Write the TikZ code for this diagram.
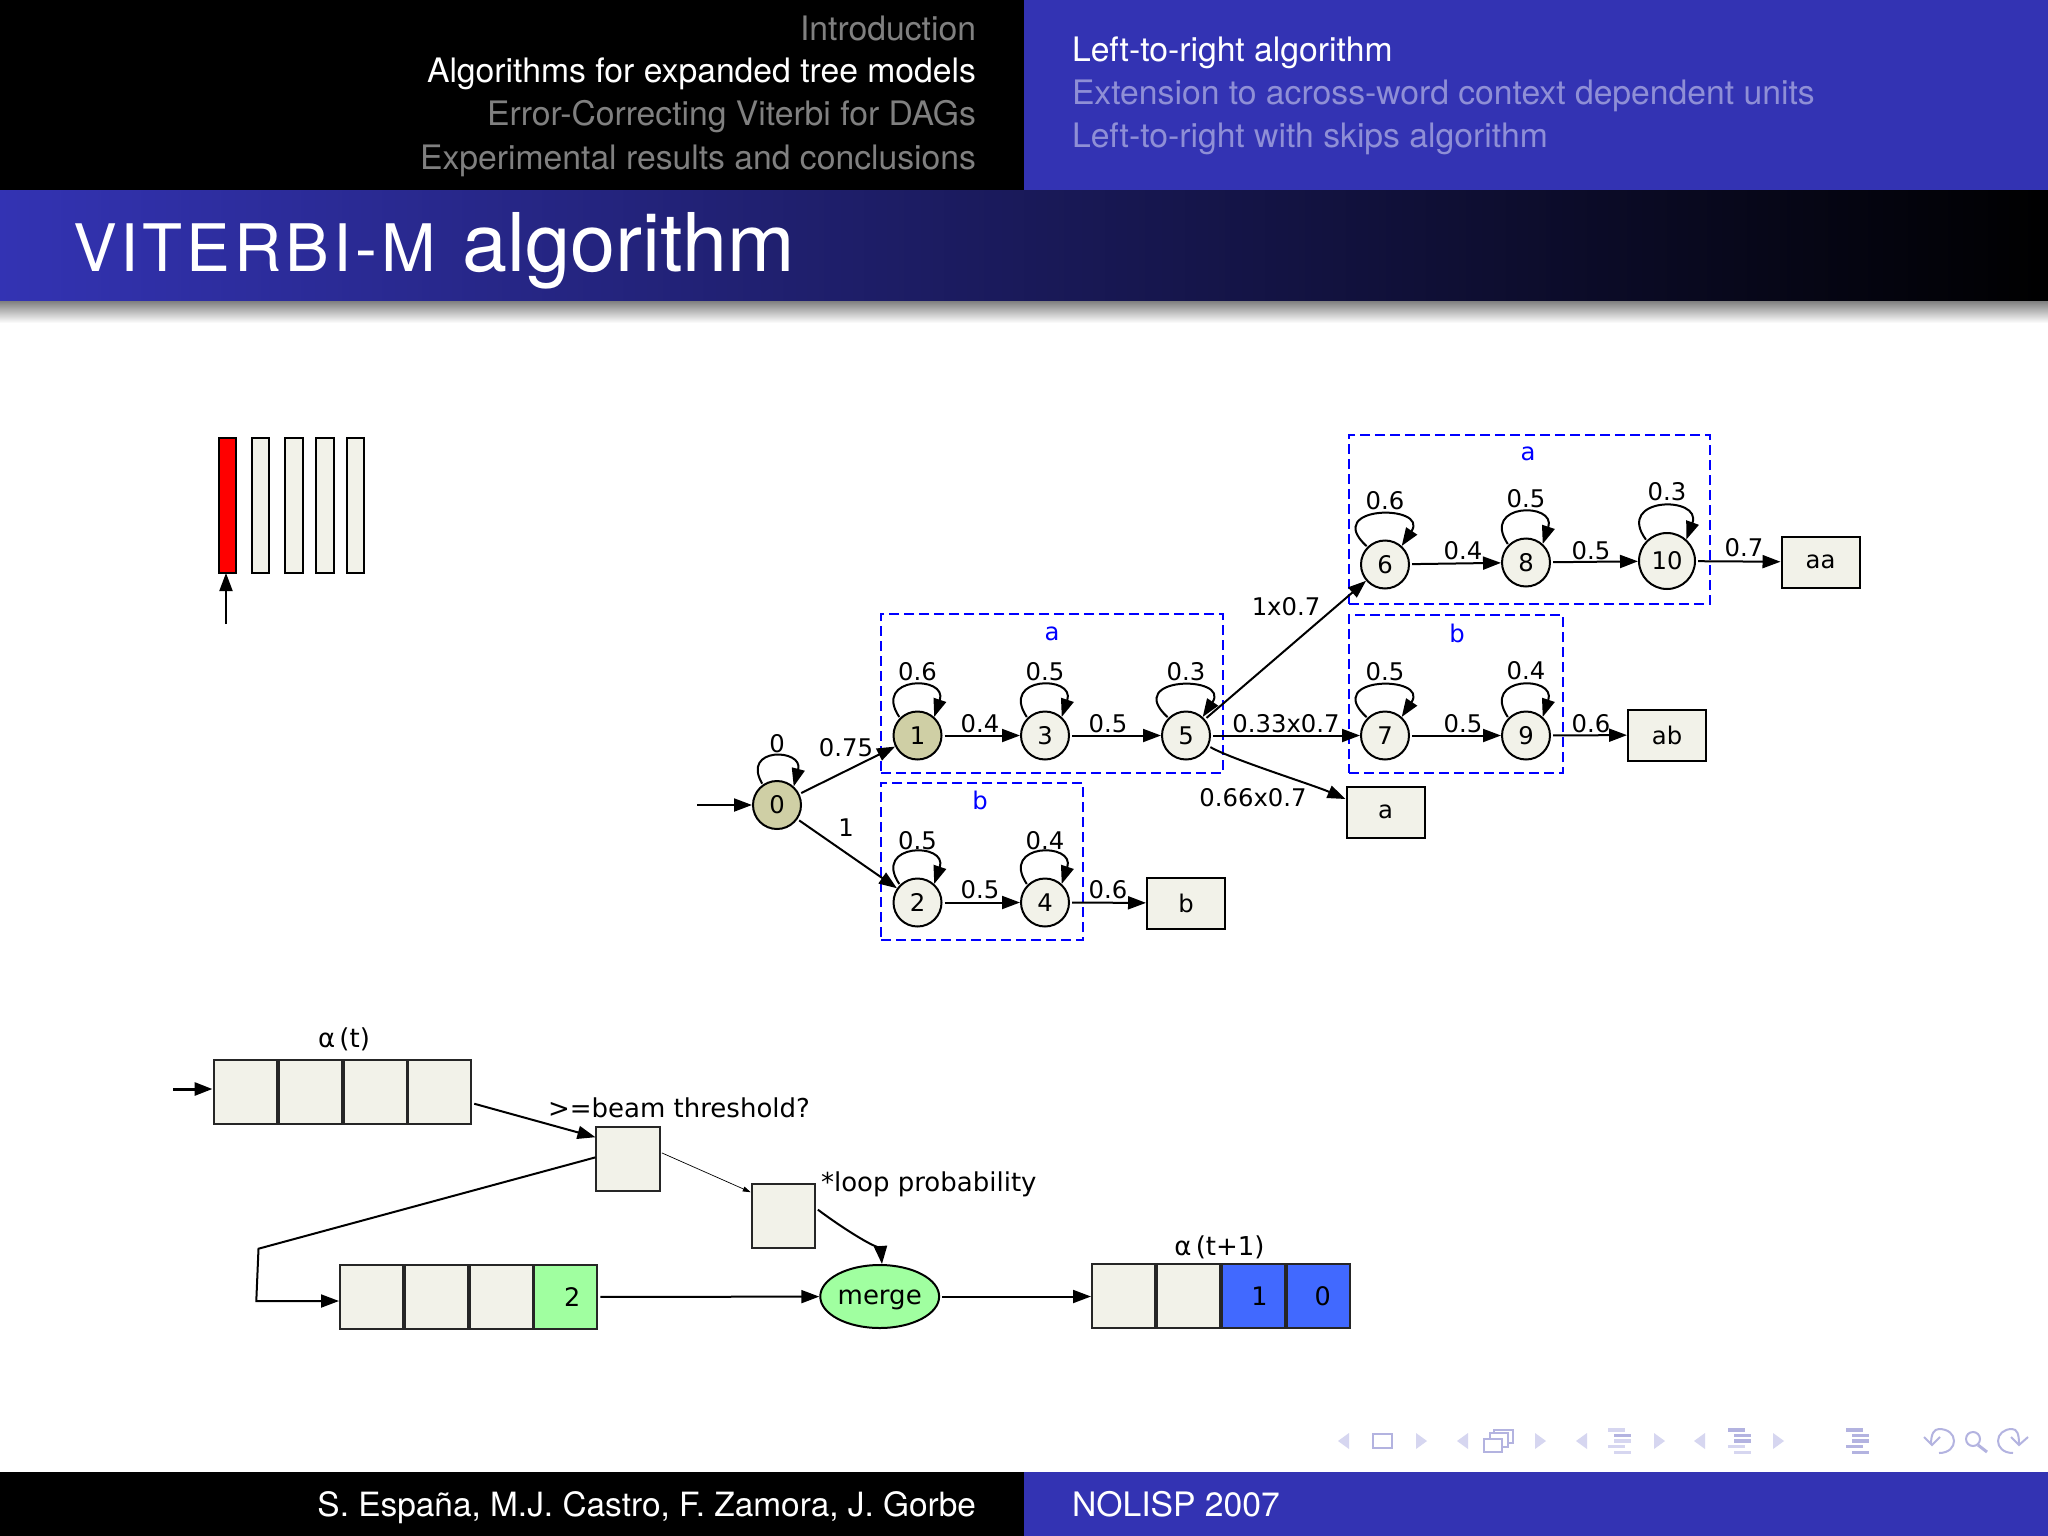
\documentclass[tikz,border=0pt]{standalone}
\usepackage{fontspec}
\setmainfont{TeX Gyre Heros}
\newfontfamily\dv{DejaVu Sans}
\usetikzlibrary{arrows.meta,shapes.geometric}
\definecolor{bblue}{HTML}{3333B3}
\definecolor{cream}{HTML}{F2F2E9}
\definecolor{olivefill}{HTML}{CFCFA5}
\definecolor{lgreen}{HTML}{A0FFA0}
\definecolor{rblue}{HTML}{4169FF}
\definecolor{navlight}{HTML}{D6D6F0}
\definecolor{navdark}{HTML}{B3B3E0}
\definecolor{navgray}{HTML}{808080}
\definecolor{navblue}{HTML}{8F8FD6}
\tikzset{
  navtext/.style={inner sep=0pt,outer sep=0pt,font=\fontsize{33.7}{38}\selectfont},
  gl/.style={inner sep=0pt,yshift=-1pt,font=\dv\fontsize{24.3}{28}\selectfont,text=black},
  ll/.style={inner sep=0pt,font=\dv\fontsize{26}{30}\selectfont,text=black},
  bl/.style={inner sep=0pt,yshift=-1pt,font=\dv\fontsize{24.3}{28}\selectfont,text=blue},
  st/.style={circle,draw=black,line width=2pt,fill=cream,minimum size=48pt,inner sep=0pt,font=\dv\fontsize{24.3}{28}\selectfont},
  stact/.style={st,fill=olivefill},
  endbox/.style={rectangle,draw=black,line width=2pt,fill=cream,minimum width=78pt,minimum height=51pt,inner sep=0pt,font=\dv\fontsize{24.3}{28}\selectfont},
  cluster/.style={rectangle,draw=blue,line width=2.4pt,dash pattern=on 10pt off 5pt,inner sep=0pt},
  arr/.style={draw=black,line width=2pt,shorten <=2pt,-{Triangle[length=18pt,width=13pt]}},
  thinarr/.style={draw=black,line width=.7pt,shorten <=1pt,-{Triangle[length=8pt,width=5pt]}},
  cell/.style={rectangle,draw=black!85,line width=2pt,fill=cream,minimum width=63pt,minimum height=64pt,inner sep=0pt,font=\dv\fontsize{25.5}{30}\selectfont},
  bar/.style={rectangle,draw=black,line width=2pt,fill=cream,minimum width=17.5pt,minimum height=135pt,inner sep=0pt},
  navicon/.style={line width=2pt,draw=navdark}
}
\newcommand\sloop[5]{\draw[arr,shorten <=1pt] (#1.#2) .. controls +(-#3,-#5) and +(#4,-#5) .. (#1.48);}
\newcommand\tril[2]{\fill[navlight] (#1,#2) -- (#1+11,#2-8) -- (#1+11,#2+8) -- cycle;}
\newcommand\trir[2]{\fill[navlight] (#1+11,#2) -- (#1,#2-8) -- (#1,#2+8) -- cycle;}
\newcommand\nbar[3]{\fill[#3] (#1,#2-1.7) rectangle (#1+17,#2+1.7);}
\newcommand\secicon[6]{%
  \nbar{#1}{1430}{#2}\nbar{#1+6}{1435.5}{#3}\nbar{#1+6}{1441}{#4}\nbar{#1}{1446.7}{#5}\nbar{#1+6}{1452.3}{#6}}
\begin{document}
\begin{tikzpicture}[x=1pt,y=-1pt]
\useasboundingbox (0,0) rectangle (2048,1536);
% slide furniture
\fill[white] (0,0) rectangle (2048,1536);
\fill[black] (0,0) rectangle (1024,190.5);
\fill[bblue] (1024,0) rectangle (2048,190.5);
\shade[left color=bblue,right color=black] (0,190.5) rectangle (2048,301);
\shade[top color=black!50,bottom color=white] (0,301) rectangle (2048,323);
\fill[black] (0,1472) rectangle (1024,1536);
\fill[bblue] (1024,1472) rectangle (2048,1536);
\node[navtext,anchor=base east,text=navgray] (nav1) at (976,40.5) {Introduction};
\node[navtext,anchor=base east,text=white] (nav2) at (976,83) {Algorithms for expanded tree models};
\node[navtext,anchor=base east,text=navgray] (nav3) at (976,126) {Error-Correcting Viterbi for DAGs};
\node[navtext,anchor=base east,text=navgray] (nav4) at (976,169) {Experimental results and conclusions};
\node[navtext,anchor=base west,text=white] (sub1) at (1072,61.7) {Left-to-right algorithm};
\node[navtext,anchor=base west,text=navblue] (sub2) at (1072,104.5) {Extension to across-word context dependent units};
\node[navtext,anchor=base west,text=navblue] (sub3) at (1072,147) {Left-to-right with skips algorithm};
\node[inner sep=0pt,anchor=base west,text=white] (title) at (73,271.5) {\fontsize{65.5}{70}\selectfont\addfontfeature{LetterSpace=6}VITERBI-M};
\node[inner sep=0pt,anchor=base west,text=white] (title2) at (462,271.5) {\fontsize{81}{84}\selectfont algorithm};
\node[inner sep=0pt,outer sep=0pt,anchor=base east,text=white,font=\fontsize{33.4}{38}\selectfont] (foot1) at (976,1516) {S. España, M.J. Castro, F. Zamora, J. Gorbe};
\node[navtext,anchor=base west,text=white] (foot2) at (1072,1516) {NOLISP 2007};
% beamer navigation symbols
\tril{1338}{1441}
\draw[navicon] (1373,1434) rectangle (1392,1448);
\trir{1416}{1441}
\tril{1457}{1441}
\draw[navicon,line width=1.5pt] (1494,1430) rectangle (1513,1443);
\draw[navicon,line width=1.5pt,fill=white] (1490,1433) rectangle (1508,1447);
\draw[navicon,fill=white] (1484,1439) rectangle (1502,1452);
\trir{1535}{1441}
\tril{1576}{1441}
\secicon{1608}{navlight}{navdark}{navlight}{navlight}{navlight}
\trir{1654}{1441}
\tril{1694}{1441}
\secicon{1728}{navdark}{navdark}{navdark}{navlight}{navlight}
\trir{1773}{1441}
\secicon{1845.5}{navdark}{navdark}{navdark}{navdark}{navdark}
\draw[navicon] (1939,1453) .. controls (1949,1453) and (1954,1447) .. (1954,1441) .. controls (1954,1434) and (1948,1429) .. (1939,1429) .. controls (1934,1429) and (1931,1434) .. (1931,1444);
\draw[navicon] (1924,1437) -- (1932,1445) -- (1940,1437);
\draw[navicon] (1973,1439) circle[radius=7pt];
\draw[navicon,line width=3pt] (1978,1445) -- (1987,1452);
\draw[navicon] (2013,1453) .. controls (2003,1453) and (1998,1447) .. (1998,1441) .. controls (1998,1434) and (2004,1429) .. (2012,1429) .. controls (2017,1429) and (2019,1434) .. (2019,1444);
\draw[navicon] (2011,1437) -- (2019,1445) -- (2028,1437);
% observation bars
\node[bar,fill=red] (b1) at (227.5,505.5) {};
\node[bar] (b2) at (260.5,505.5) {};
\node[bar] (b3) at (294,505.5) {};
\node[bar] (b4) at (325,505.5) {};
\node[bar] (b5) at (355.5,505.5) {};
\coordinate (bs) at (226,624);
\coordinate (bt) at (226,573);
\draw[arr,shorten <=0pt] (bs) -- (bt);
% clusters
\node[cluster,minimum width=342pt,minimum height=159pt] (ca1) at (1052,693.5) {};
\node[cluster,minimum width=202pt,minimum height=157pt] (cb1) at (982,861.5) {};
\node[cluster,minimum width=361pt,minimum height=169pt] (ca2) at (1529.5,519.5) {};
\node[cluster,minimum width=214pt,minimum height=158pt] (cb2) at (1456,694) {};
\node[bl] (la1) at (1052,633) {a};
\node[bl] (lb1) at (980,799) {b};
\node[bl] (la2) at (1528,453) {a};
\node[bl] (lb2) at (1457,632) {b};
% states
\node[stact] (n0) at (777,805) {0};
\node[stact] (n1) at (917.5,735.5) {1};
\node[st] (n2) at (917.5,902.5) {2};
\node[st] (n3) at (1045,735.5) {3};
\node[st] (n4) at (1045,902.5) {4};
\node[st] (n5) at (1186,735.5) {5};
\node[st] (n6) at (1385,564.5) {6};
\node[st] (n7) at (1385,735.5) {7};
\node[st] (n8) at (1526,562.5) {8};
\node[st] (n9) at (1526,735.5) {9};
\node[st,minimum size=56pt] (n10) at (1667,561) {10};
\node[endbox] (ba) at (1385.5,812) {a};
\node[endbox] (bb) at (1186,903) {b};
\node[endbox] (bab) at (1667,735) {ab};
\node[endbox] (baa) at (1820.5,562) {aa};
\coordinate (start) at (697,805);
% transitions
\draw[arr,shorten <=0pt] (start) -- (n0);
\draw[arr] (n0) -- (n1);
\draw[arr] (n0) -- (n2);
\draw[arr] (n1) -- (n3);
\draw[arr] (n3) -- (n5);
\draw[arr] (n2) -- (n4);
\draw[arr] (n4) -- (bb);
\draw[arr] (n5) -- (n6);
\draw[arr] (n5) -- (n7);
\draw[arr] (n5.-25) .. controls +(22,13) and +(-32,-14) .. (ba.162);
\draw[arr] (n6) -- (n8);
\draw[arr] (n8) -- (n10);
\draw[arr] (n10) -- (baa);
\draw[arr] (n7) -- (n9);
\draw[arr] (n9) -- (bab);
\sloop{n0}{125}{22}{10}{38}
\sloop{n1}{135}{28}{14}{42}
\sloop{n3}{135}{28}{14}{42}
\sloop{n5}{135}{46}{28}{42}
\sloop{n2}{135}{28}{14}{42}
\sloop{n4}{135}{28}{14}{42}
\sloop{n6}{135}{46}{28}{42}
\sloop{n8}{135}{28}{14}{42}
\sloop{n10}{135}{32}{16}{44}
\sloop{n7}{135}{46}{28}{42}
\sloop{n9}{135}{28}{14}{42}
% edge labels
\node[gl] (t00) at (777,743) {0};
\node[gl] (t01) at (846,747) {0.75};
\node[gl] (t02) at (846,827) {1};
\node[gl] (t11) at (917.5,671) {0.6};
\node[gl] (t33) at (1045,671) {0.5};
\node[gl] (t55) at (1186,671) {0.3};
\node[gl] (t13) at (980,723) {0.4};
\node[gl] (t35) at (1108,723) {0.5};
\node[gl] (t22) at (917.5,840) {0.5};
\node[gl] (t44) at (1045,840) {0.4};
\node[gl] (t24) at (980,889) {0.5};
\node[gl] (t4b) at (1108,889) {0.6};
\node[gl] (t56) at (1286,606) {1x0.7};
\node[gl] (t57) at (1286,723) {0.33x0.7};
\node[gl] (t5a) at (1253,797) {0.66x0.7};
\node[gl] (t66) at (1385,500) {0.6};
\node[gl] (t88) at (1526,498) {0.5};
\node[gl] (t1010) at (1667,491) {0.3};
\node[gl] (t68) at (1463,550) {0.4};
\node[gl] (t810) at (1591,550) {0.5};
\node[gl] (t10a) at (1744,547) {0.7};
\node[gl] (t77) at (1385,671) {0.5};
\node[gl] (t99) at (1526,670) {0.4};
\node[gl] (t79) at (1463,723) {0.5};
\node[gl] (t9b) at (1591,723) {0.6};
% arrays
\node[cell] (a1) at (245.6,1092) {};
\node[cell] (a2) at (310.5,1092) {};
\node[cell] (a3) at (375.4,1092) {};
\node[cell] (a4) at (439.8,1092) {};
\node[cell] (c1) at (371.5,1297) {};
\node[cell] (c2) at (436.2,1297) {};
\node[cell] (c3) at (501.1,1297) {};
\node[cell,fill=lgreen] (c4) at (565.8,1297) {\hspace*{13pt}2};
\node[cell] (d1) at (1123.5,1296) {};
\node[cell] (d2) at (1188.4,1296) {};
\node[cell,fill=rblue] (d3) at (1253.5,1296) {\hspace*{12pt}1};
\node[cell,fill=rblue] (d4) at (1318.2,1296) {\hspace*{9pt}0};
\node[cell,minimum width=63.5pt] (thr) at (628.2,1158.5) {};
\node[cell,minimum width=63.5pt] (lp) at (783.5,1216) {};
\node[ellipse,draw=black,line width=2pt,fill=lgreen,minimum width=114pt,minimum height=63pt,inner sep=0pt,text height=20pt,text depth=5pt,font=\dv\fontsize{26}{30}\selectfont] (merge) at (879.7,1296.5) {merge};
\coordinate (in1) at (173,1089);
\coordinate (in2) at (212.5,1089);
\coordinate (bend1) at (258.5,1248.7);
\coordinate (bend2) at (256.3,1301);
\draw[arr,line width=3pt,shorten <=0pt] (in1) -- (in2);
\draw[arr] (a4.-19) -- (thr.147);
\draw[thinarr] (thr.east) ++(0,-6) -- (lp.144);
\draw[draw=black,line width=2pt,-{Triangle[length=18pt,width=13pt]}] (thr.178) -- (bend1) -- (bend2) -- (c1.west |- bend2);
\draw[arr] (lp.13) .. controls (845,1230) and (881,1252) .. (merge.86);
\draw[arr] (c4) -- (merge);
\draw[arr] (merge.east) -- (merge.east -| d1.west);
\node[ll] (lt) at (344,1039) {α\,(t)};
\node[ll] (lt1) at (1219.5,1247) {α\,(t+1)};
\node[ll] (lb) at (679,1108) {>=beam threshold?};
\node[ll] (lpp) at (928.8,1184) {*loop probability};
\end{tikzpicture}
\end{document}
